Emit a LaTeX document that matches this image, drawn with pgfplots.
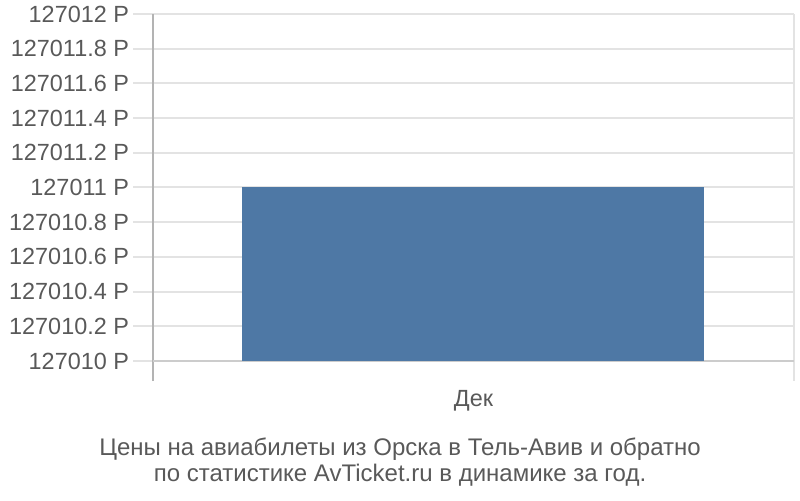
\documentclass[border=0pt]{standalone}
\usepackage{fontspec}
\setmainfont{Liberation Sans}
\usepackage{pgfplots}
\pgfplotsset{compat=1.18}

\definecolor{barblue}{HTML}{4E78A5}
\definecolor{txt}{HTML}{595959}
\definecolor{gridc}{HTML}{E3E3E3}
\definecolor{axisc}{HTML}{B3B3B3}

\begin{document}
\begin{tikzpicture}
\useasboundingbox (-76.5pt,-59.5pt) rectangle (323.5pt,190.5pt);
\begin{axis}[
    at={(0,0)}, anchor=south west,
    scale only axis,
    width=320.5pt, height=183.5pt,
    xmin=0, xmax=1,
    ymin=127009.8847, ymax=127012,
    scaled y ticks=false, scaled x ticks=false,
    axis line style={draw=none},
    ytick={127010,127010.2,127010.4,127010.6,127010.8,127011,127011.2,127011.4,127011.6,127011.8,127012},
    yticklabels={127010 Р,127010.2 Р,127010.4 Р,127010.6 Р,127010.8 Р,127011 Р,127011.2 Р,127011.4 Р,127011.6 Р,127011.8 Р,127012 Р},
    ymajorgrids,
    grid style={gridc, line width=1pt},
    ytick pos=left,
    tick align=outside,
    major tick length=10pt,
    ytick style={gridc, line width=1pt},
    xtick={0.5},
    xticklabels={Дек},
    xtick style={draw=none},
    tick label style={font=\fontsize{11.7}{13}\selectfont, text=txt},
    yticklabel style={xshift=1.5pt},
    xticklabel style={yshift=9pt},
    clip=false,
]
% vertical frame lines on each side
\draw[axisc, line width=1pt] (axis cs:0,127009.8847) -- (axis cs:0,127012);
\draw[gridc, line width=1.2pt] (axis cs:1,127009.8847) -- (axis cs:1,127012);
\draw[black!20, line width=1pt] (axis cs:0,127010) -- (axis cs:1,127010);
% the one bar: Dec
\addplot[fill=barblue, draw=none] coordinates {
    (0.139,127010) (0.139,127011) (0.860,127011) (0.860,127010)
} --cycle;
\end{axis}
\node[text=txt, font=\fontsize{12}{13}\selectfont, align=center] at (123.5pt,-40.5pt)
    {Цены на авиабилеты из Орска в Тель-Авив и обратно\\по статистике AvTicket.ru в динамике за год.};
\end{tikzpicture}
\end{document}
